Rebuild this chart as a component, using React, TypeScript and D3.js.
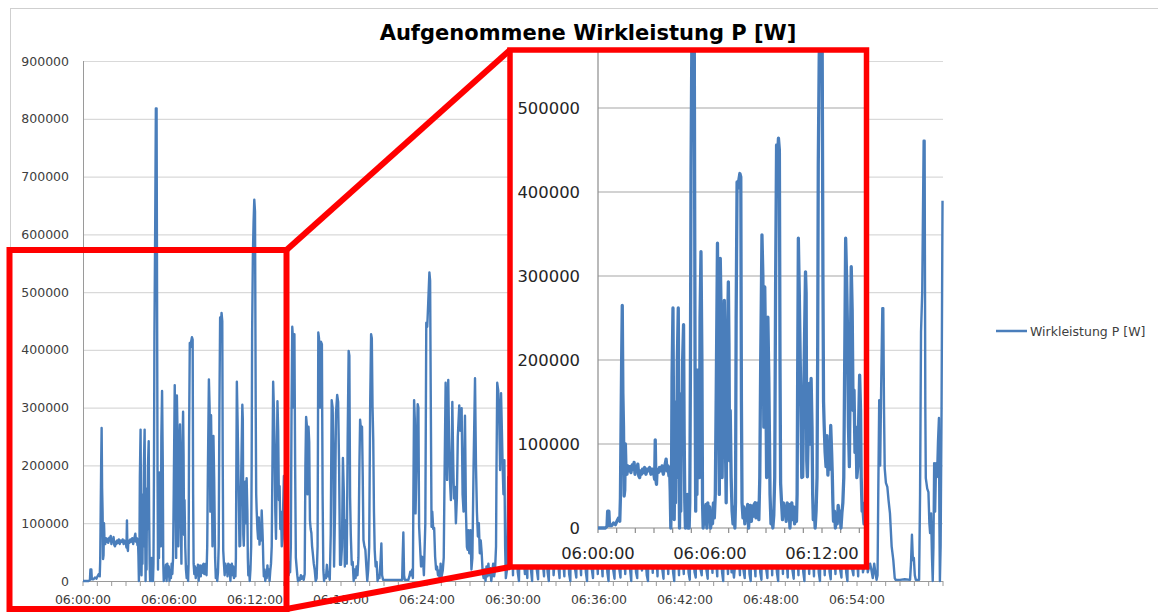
import React, { useEffect, useRef } from "react";
import * as d3 from "d3";

// [seconds after 06:00:00, kW]
type Pt = [number, number];

const p0600: Pt[] = [
  [0, 0], [12, 0], [24, 0], [29, 2], [31, 20], [35, 20], [37, 3], [44, 3], [50, 6], [56, 4], [62, 9], [66, 12],
  [70, 8], [72, 35], [74, 120], [76, 200], [78, 265], [80, 160], [82, 120], [84, 38], [86, 45], [88, 100], [90, 70],
  [93, 64], [96, 74], [99, 68], [102, 73], [106, 66], [110, 75], [113, 70], [116, 78], [119, 64], [122, 72], [125, 70],
  [128, 76], [131, 62], [134, 60], [137, 68], [140, 64], [143, 70], [146, 66], [150, 72], [154, 64], [158, 70],
  [162, 68], [166, 72], [170, 64], [174, 70], [178, 68], [182, 58], [184, 105], [186, 58], [188, 52], [190, 70],
  [194, 66], [198, 72], [202, 68], [206, 74], [210, 64], [213, 70], [216, 76], [219, 82], [222, 68], [225, 74],
  [228, 62], [230, 72], [232, 45], [234, 0], [236, 40], [238, 180], [241, 262], [243, 120], [245, 10], [247, 90],
  [249, 30], [251, 150], [253, 60], [255, 200], [258, 262], [260, 100], [262, 0], [264, 80], [266, 20], [268, 160],
  [270, 90], [272, 200], [275, 242], [277, 110], [279, 30], [281, 0], [283, 25], [285, 5], [287, 40], [289, 0],
  [291, 15], [293, 0], [295, 30], [297, 180], [299, 426],
];

const p0605: Pt[] = [
  [302, 600], [305, 818], [308, 818], [310, 500], [312, 190], [314, 20], [316, 188], [318, 40], [320, 188],
  [323, 120], [326, 60], [328, 250], [331, 329], [334, 200], [336, 30], [338, 0], [341, 22], [344, 5], [347, 28],
  [350, 0], [353, 30], [356, 8], [359, 25], [362, 0], [365, 18], [368, 5], [371, 30], [374, 12], [377, 40],
  [380, 160], [384, 339], [387, 200], [390, 40], [393, 321], [396, 250], [399, 60], [402, 180], [406, 271],
  [409, 120], [412, 30], [415, 200], [419, 293], [421, 220], [423, 80], [425, 140], [428, 60], [431, 20], [434, 5],
  [437, 25], [440, 0], [442, 30], [444, 250], [447, 412], [450, 405], [453, 415], [456, 422], [459, 418], [461, 150],
  [463, 30], [466, 12], [469, 25], [472, 5], [475, 22], [478, 10], [481, 28], [484, 0], [487, 20], [490, 27],
  [493, 8], [496, 26], [499, 14], [502, 28], [505, 30], [508, 12], [511, 24], [514, 30], [517, 10], [520, 60],
  [523, 200], [527, 349], [530, 300], [533, 120], [536, 287], [539, 200], [542, 60], [546, 251], [549, 180],
  [551, 113], [553, 40], [556, 5], [559, 20], [562, 0], [565, 15], [568, 60], [571, 300], [574, 456], [577, 440],
  [580, 464], [583, 450], [585, 200], [587, 53], [590, 30], [593, 10], [596, 30], [599, 18],
];

const p0610: Pt[] = [
  [602, 26], [605, 8], [608, 30], [611, 12], [614, 28], [617, 0], [620, 22], [623, 30], [626, 10], [629, 25],
  [632, 5], [635, 20], [638, 8], [640, 40], [642, 200], [644, 345], [647, 280], [650, 200], [653, 120], [655, 60],
  [658, 61], [661, 150], [664, 230], [667, 305], [669, 280], [671, 80], [673, 61], [676, 120], [679, 172],
  [682, 100], [685, 178], [688, 120], [690, 40], [692, 10], [695, 25], [698, 0], [701, 20], [704, 60], [706, 200],
  [708, 432], [711, 560], [714, 620], [717, 660], [720, 640], [723, 300], [725, 150], [727, 122], [730, 90],
  [733, 73], [736, 110], [739, 63], [742, 90], [745, 70], [748, 122], [751, 90], [753, 65], [755, 30], [757, 8],
  [760, 20], [763, 0], [766, 15], [769, 5], [772, 27], [775, 10], [778, 20], [781, 0], [784, 18], [787, 30],
  [790, 60], [793, 200], [796, 345], [799, 300], [802, 235], [805, 120], [808, 73], [811, 200], [814, 311],
  [817, 260], [820, 140], [823, 164], [826, 90], [829, 120], [832, 60], [835, 73], [838, 130], [841, 182],
  [844, 140], [846, 60], [849, 20], [852, 21], [855, 5], [858, 30], [861, 10], [864, 33], [867, 15], [870, 60],
  [873, 300], [876, 440], [879, 420], [882, 300], [885, 427], [888, 200], [891, 40], [894, 25], [897, 10],
];

const p0615: Pt[] = [
  [900, 0], [904, 5], [908, 2], [912, 10], [916, 4], [920, 8], [924, 2], [928, 12], [931, 200], [934, 284],
  [937, 270], [940, 150], [944, 267], [947, 240], [950, 105], [953, 90], [956, 83], [959, 60], [962, 48], [966, 30],
  [970, 19], [974, 0], [978, 5], [982, 60], [985, 430], [988, 420], [992, 300], [996, 414], [1000, 410], [1003, 150],
  [1006, 20], [1009, 0], [1013, 10], [1017, 5], [1021, 28], [1025, 8], [1029, 15], [1033, 2], [1037, 80],
  [1041, 313], [1045, 300], [1048, 232], [1051, 25], [1055, 120], [1059, 290], [1064, 322], [1068, 310],
  [1072, 200], [1076, 28], [1080, 28], [1084, 60], [1088, 213], [1092, 150], [1096, 25], [1100, 105], [1104, 30],
  [1108, 250], [1112, 398], [1115, 390], [1118, 146], [1121, 80], [1125, 28], [1129, 33], [1133, 0], [1137, 20],
  [1141, 5], [1145, 25], [1149, 10], [1153, 40], [1157, 200], [1160, 279], [1164, 260], [1168, 267], [1171, 180],
  [1174, 71], [1178, 60], [1182, 54], [1186, 25], [1190, 0], [1194, 20], [1198, 60],
];

const p0620: Pt[] = [
  [1202, 300], [1206, 427], [1209, 420], [1212, 302], [1215, 244], [1218, 120], [1221, 54], [1225, 25], [1229, 33],
  [1233, 0], [1237, 10], [1241, 5], [1245, 30], [1249, 65], [1252, 10], [1256, 2], [1280, 2], [1310, 2], [1336, 2],
  [1338, 40], [1341, 84], [1344, 10], [1347, 2], [1362, 2], [1366, 8], [1370, 16], [1374, 10], [1378, 20],
  [1381, 5], [1383, 150], [1386, 313], [1389, 280], [1392, 117], [1396, 200], [1401, 306], [1404, 300], [1407, 94],
  [1411, 60], [1415, 25], [1419, 42], [1423, 40], [1427, 10], [1433, 100], [1437, 447], [1441, 440], [1445, 480],
  [1450, 534], [1453, 520], [1456, 302], [1459, 94], [1462, 120], [1466, 90], [1470, 92], [1474, 42], [1478, 20],
  [1482, 25], [1486, 10], [1490, 18], [1494, 0], [1497, 30],
];

const p0625: Pt[] = [
  [1500, 5], [1506, 18], [1510, 40], [1514, 200], [1518, 343], [1521, 300], [1524, 175], [1529, 348], [1532, 250],
  [1536, 175], [1540, 140], [1543, 200], [1546, 310], [1550, 200], [1553, 143], [1557, 163], [1561, 100],
  [1565, 143], [1569, 250], [1575, 304], [1579, 260], [1585, 299], [1589, 150], [1593, 120], [1599, 286],
  [1603, 120], [1607, 59], [1610, 54], [1613, 88], [1617, 48], [1622, 88], [1626, 20], [1630, 40], [1635, 200],
  [1641, 351], [1645, 200], [1649, 120], [1653, 77], [1657, 100], [1661, 48], [1665, 70], [1669, 48], [1673, 15],
  [1677, 5], [1681, 20], [1685, 0], [1689, 25], [1693, 8], [1697, 30], [1701, 10], [1705, 22], [1709, 0],
  [1713, 15], [1717, 30], [1721, 8], [1725, 20], [1729, 60], [1731, 200], [1734, 343], [1738, 330], [1742, 290],
  [1746, 192], [1750, 325], [1754, 250], [1757, 192], [1760, 150], [1764, 209], [1767, 60], [1770, 5],
];

// 06:29:35 - 06:54:55, 5 s samples; hidden behind the zoom box except the lowest strip
const p0630Start = 1775;
const p0630kW = [
  20, 180, 40, 260, 90, 10, 150, 300, 60, 15, 0, 120, 330, 210, 40, 12, 30, 5, 250, 140,
  20, 0, 160, 310, 60, 18, 3, 200, 350, 90, 30, 8, 280, 50, 15, 0, 180, 260, 70, 10,
  40, 230, 120, 25, 5, 300, 160, 35, 8, 150, 270, 60, 12, 0, 210, 330, 80, 20, 6, 190,
  250, 45, 10, 170, 300, 70, 15, 0, 140, 260, 90, 20, 5, 220, 310, 50, 12, 160, 240, 40,
  8, 190, 290, 70, 15, 0, 150, 270, 60, 18, 4, 210, 320, 80, 20, 6, 180, 260, 45, 12,
  140, 300, 90, 20, 0, 200, 280, 55, 15, 5, 170, 330, 70, 18, 150, 240, 40, 10, 0, 190,
  300, 60, 14, 160, 250, 50, 8, 210, 320, 85, 20, 4, 180, 270, 45, 12, 150, 290, 70, 16,
  0, 200, 310, 55, 10, 170, 260, 40, 12, 190, 300, 65, 14, 2, 160, 280, 50, 15, 6, 210,
  300, 60, 20, 10, 140, 250, 70, 18, 4, 190, 310, 60, 14, 170, 240, 40, 8, 200, 290, 75,
  16, 0, 160, 270, 50, 12, 120, 60, 15, 24, 6, 30, 150, 280, 40, 10, 220, 90, 18, 5,
  180, 300, 55, 12, 0, 140, 260, 35, 8, 200, 310, 70, 15, 2, 160, 290, 60, 20, 5, 230,
  320, 80, 10, 150, 270, 45, 14, 0, 190, 300, 60, 12, 170, 250, 40, 6, 210, 330, 75, 18,
  4, 140, 260, 50, 10, 180, 290, 65, 16, 0, 200, 310, 55, 12, 150, 240, 45, 8, 190, 280,
  70, 14, 0, 160, 300, 60, 10, 220, 320, 80, 16, 3, 170, 260, 45, 12, 140, 290, 70, 18,
  6, 200, 310, 50, 14, 0, 180, 270, 60, 20, 10, 150, 250, 40, 8, 190, 300, 65, 15, 25,
  120, 60, 15, 24, 30,
];
const p0630: Pt[] = p0630kW.map((v, i) => [p0630Start + i * 5, v]);

const p0655: Pt[] = [
  [3300, 20], [3306, 5], [3312, 30], [3318, 12], [3322, 2], [3326, 10], [3329, 150], [3333, 313], [3337, 200],
  [3341, 330], [3346, 472], [3350, 472], [3353, 300], [3356, 195], [3361, 170], [3367, 163], [3372, 140],
  [3378, 117], [3385, 60], [3392, 36], [3398, 5], [3402, 2], [3420, 2], [3440, 3], [3462, 2], [3466, 30],
  [3470, 80], [3474, 36], [3478, 40], [3482, 10], [3486, 2], [3500, 2], [3504, 150], [3508, 431], [3513, 500],
  [3519, 762], [3523, 762], [3526, 300], [3528, 178], [3534, 160], [3539, 154], [3543, 100], [3546, 83],
  [3550, 117], [3554, 40], [3557, 0], [3560, 60], [3563, 204], [3567, 120], [3571, 204], [3575, 180], [3579, 240],
  [3583, 282], [3585, 100], [3587, 0], [3590, 60], [3594, 300], [3598, 658],
];

const series: Pt[] = [...p0600, ...p0605, ...p0610, ...p0615, ...p0620, ...p0625, ...p0630, ...p0655];

const yTicks = [0, 100000, 200000, 300000, 400000, 500000, 600000, 700000, 800000, 900000];
const insetYTicks = [0, 100000, 200000, 300000, 400000, 500000];
const timeLabels = ["06:00:00", "06:06:00", "06:12:00", "06:18:00", "06:24:00", "06:30:00", "06:36:00", "06:42:00", "06:48:00", "06:54:00"];
const insetTimeLabels = ["06:00:00", "06:06:00", "06:12:00"];

const title = "Aufgenommene Wirkleistung P [W]";
const seriesName = "Wirkleistung P [W]";

const toSeconds = (s: string) => {
  const [h, m, sec] = s.split(":").map(Number);
  return (h - 6) * 3600 + m * 60 + sec;
};

const FONT = "DejaVu Sans, Verdana, sans-serif";
const BLUE = "#4a7ebb";

const App = () => {
  const svgRef = useRef<SVGSVGElement>(null);

  useEffect(() => {
    const svg = d3.select(svgRef.current);
    svg.selectAll("*").remove();

    // chart frame
    svg.append("rect").attr("x", 10.5).attr("y", 8.5).attr("width", 1200).attr("height", 700)
      .attr("fill", "white").attr("stroke", "#cfcfcf");

    svg.append("text").attr("x", 588).attr("y", 40).attr("text-anchor", "middle")
      .style("font-family", FONT).style("font-size", "21px").style("font-weight", "bold")
      .style("fill", "#000").text(title);

    // main plot
    const x = d3.scaleLinear().domain([0, 3600]).range([83, 943]);
    const y = d3.scaleLinear().domain([0, 900000]).range([581, 61]);

    const main = svg.append("g");
    main.selectAll("line.grid").data(yTicks.slice(1)).enter().append("line")
      .attr("x1", 83).attr("x2", 943).attr("y1", (d) => y(d) + 0.5).attr("y2", (d) => y(d) + 0.5)
      .attr("stroke", "#d9d9d9").attr("stroke-width", 1.2);
    main.selectAll("text.yl").data(yTicks).enter().append("text")
      .attr("x", 69).attr("y", (d) => y(d)).attr("dy", "0.36em").attr("text-anchor", "end")
      .style("font-family", FONT).style("font-size", "12.5px").style("fill", "#404040").text((d) => String(d));
    main.append("line").attr("x1", 83.5).attr("x2", 83.5).attr("y1", y(900000)).attr("y2", y(0))
      .attr("stroke", "#9a9a9a");
    main.append("line").attr("x1", 83).attr("x2", 943).attr("y1", y(0) + 0.5).attr("y2", y(0) + 0.5)
      .attr("stroke", "#9a9a9a");
    main.selectAll("line.tick").data(d3.range(0, 61)).enter().append("line")
      .attr("x1", (m) => x(m * 60)).attr("x2", (m) => x(m * 60)).attr("y1", y(0)).attr("y2", y(0) + 5)
      .attr("stroke", "#9a9a9a");
    main.selectAll("text.xl").data(timeLabels).enter().append("text")
      .attr("x", (d) => x(toSeconds(d))).attr("y", 604).attr("text-anchor", "middle")
      .style("font-family", FONT).style("font-size", "12.5px").style("fill", "#404040").text((d) => d);

    const line = d3.line<Pt>().x((d) => x(d[0])).y((d) => y(d[1] * 1000));
    main.append("path").datum(series).attr("d", line).attr("fill", "none")
      .attr("stroke", BLUE).attr("stroke-width", 2.4).attr("stroke-linejoin", "round");

    // legend
    svg.append("line").attr("x1", 996).attr("x2", 1027).attr("y1", 331).attr("y2", 331)
      .attr("stroke", BLUE).attr("stroke-width", 2.5);
    svg.append("text").attr("x", 1030).attr("y", 335.5)
      .style("font-family", FONT).style("font-size", "12.5px").style("fill", "#404040").text(seriesName);

    // inset (zoomed view of 06:00 - 06:14)
    const box = { x: 510, y: 50, w: 356.5, h: 517 };
    const xi = d3.scaleLinear().domain([0, 720]).range([598, 822]);
    const yi = d3.scaleLinear().domain([0, 500000]).range([528, 108]);

    svg.append("defs").append("clipPath").attr("id", "inset-clip").append("rect")
      .attr("x", box.x).attr("y", box.y).attr("width", box.w).attr("height", box.h);

    const inset = svg.append("g");
    inset.append("rect").attr("x", box.x).attr("y", box.y).attr("width", box.w).attr("height", box.h)
      .attr("fill", "white");
    inset.selectAll("line.grid").data(insetYTicks.slice(1)).enter().append("line")
      .attr("x1", 598).attr("x2", 866).attr("y1", (d) => yi(d)).attr("y2", (d) => yi(d))
      .attr("stroke", "#a6a6a6").attr("stroke-width", 1.2);
    inset.selectAll("text.yl").data(insetYTicks).enter().append("text")
      .attr("x", 580).attr("y", (d) => yi(d)).attr("dy", "0.36em").attr("text-anchor", "end")
      .style("font-family", FONT).style("font-size", "16.4px").style("fill", "#262626").text((d) => String(d));
    inset.append("line").attr("x1", 598).attr("x2", 598).attr("y1", box.y).attr("y2", yi(0))
      .attr("stroke", "#8c8c8c").attr("stroke-width", 1.2);
    inset.append("line").attr("x1", 598).attr("x2", 866).attr("y1", yi(0)).attr("y2", yi(0))
      .attr("stroke", "#8c8c8c").attr("stroke-width", 1.2);
    inset.selectAll("line.tick").data(d3.range(0, 15)).enter().append("line")
      .attr("x1", (m) => xi(m * 60)).attr("x2", (m) => xi(m * 60)).attr("y1", yi(0)).attr("y2", yi(0) + 5)
      .attr("stroke", "#8c8c8c").attr("stroke-width", 1.2);
    inset.selectAll("text.xl").data(insetTimeLabels).enter().append("text")
      .attr("x", (d) => xi(toSeconds(d))).attr("y", 559).attr("text-anchor", "middle")
      .style("font-family", FONT).style("font-size", "16.4px").style("fill", "#262626").text((d) => d);

    const insetLine = d3.line<Pt>().x((d) => xi(d[0])).y((d) => yi(d[1] * 1000));
    inset.append("path").datum(series.filter((d) => d[0] <= 900)).attr("d", insetLine)
      .attr("clip-path", "url(#inset-clip)").attr("fill", "none")
      .attr("stroke", BLUE).attr("stroke-width", 3.3).attr("stroke-linejoin", "round");

    // red highlight boxes and connectors
    const red = svg.append("g").attr("stroke", "#ff0000").attr("fill", "none").attr("stroke-width", 6);
    red.append("rect").attr("x", 9.5).attr("y", 250).attr("width", 277).attr("height", 359);
    red.append("rect").attr("x", box.x).attr("y", box.y).attr("width", box.w).attr("height", box.h)
      .attr("stroke-width", 5.5);
    red.append("line").attr("x1", 286.5).attr("y1", 250).attr("x2", box.x).attr("y2", box.y);
    red.append("line").attr("x1", 286.5).attr("y1", 609).attr("x2", box.x).attr("y2", box.y + box.h);
  }, []);

  return (
    <svg
      ref={svgRef}
      width={1158}
      height={612}
      style={{ position: "absolute", left: 0, top: 0, background: "white" }}
    />
  );
};

export default App;
